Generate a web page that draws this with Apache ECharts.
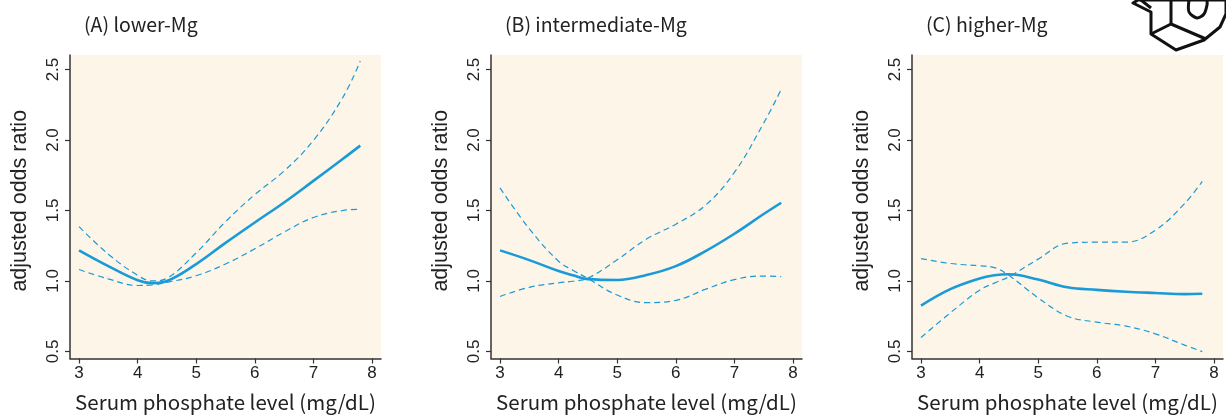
<!DOCTYPE html>
<html><head><meta charset="utf-8">
<script src="https://cdn.jsdelivr.net/npm/echarts@6/dist/echarts.min.js"></script>
<style>html,body{margin:0;padding:0;background:#fff}#c{width:1226px;height:417px}</style>
</head><body><div id="c"></div>
<script>
// shared x positions (serum phosphate, mg/dL)
const xs = [3.0, 3.5, 4.0, 4.25, 4.5, 5.0, 5.5, 6.0, 6.5, 7.0, 7.5, 7.8];
const xTicks = [3, 4, 5, 6, 7, 8];
const yTicks = [0.5, 1.0, 1.5, 2.0, 2.5];
const titles = ['(A) lower-Mg', '(B) intermediate-Mg', '(C) higher-Mg'];
const xName = 'Serum phosphate level (mg/dL)';
const yName = 'adjusted odds ratio';
// (A) lower-Mg
const aOR  = [1.217, 1.105, 1.005, 0.985, 1.0,   1.12,  1.27,  1.415, 1.557, 1.71,  1.865, 1.96];
const aCI1 = [1.385, 1.19,  1.04,  1.0,   1.02,  1.2,   1.42,  1.613, 1.78,  1.997, 2.3,   2.56];
const aCI2 = [1.081, 1.015, 0.968, 0.972, 0.99,  1.037, 1.12,  1.228, 1.347, 1.45,  1.5,   1.508];
// (B) intermediate-Mg
const bOR  = [1.217, 1.148, 1.07,  1.04,  1.013, 1.007, 1.042, 1.105, 1.21,  1.335, 1.475, 1.555];
const bCI1 = [1.66,  1.37,  1.14,  1.075, 1.017, 0.9,   0.846, 0.862, 0.94,  1.01,  1.035, 1.03];
const bCI2 = [0.89,  0.955, 0.987, 0.998, 1.02,  1.15,  1.297, 1.403, 1.535, 1.77,  2.12,  2.359];
// (C) higher-Mg
const cOR  = [0.825, 0.942, 1.018, 1.04,  1.048, 1.01,  0.955, 0.937, 0.924, 0.915, 0.907, 0.909];
const cCI1 = [1.159, 1.124, 1.108, 1.095, 1.04,  0.88,  0.75,  0.708, 0.68,  0.625, 0.545, 0.499];
const cCI2 = [0.599, 0.774, 0.935, 0.985, 1.03,  1.155, 1.268, 1.275, 1.275, 1.36,  1.55,  1.706];

const panels = [[aOR, aCI1, aCI2], [bOR, bCI1, bCI2], [cOR, cCI1, cCI2]];
const lefts = [70, 491, 912];
const BLUE = '#1a9ad6';
const pair = ys => xs.map((x, i) => [x, ys[i]]);

const grid = [], xAxis = [], yAxis = [], series = [], title = [];
panels.forEach((p, k) => {
  grid.push({left: lefts[k], top: 55, width: 311, height: 308, show: true,
    backgroundColor: '#fdf5e8', borderWidth: 0});
  title.push({text: titles[k], left: lefts[k] + 9, top: 10,
    textStyle: {fontFamily: 'Noto Sans CJK JP', fontSize: 19.5, fontWeight: 'normal', color: '#222'}});
  xAxis.push({type: 'value', gridIndex: k, min: 2.846, max: 8.154,
    name: xName, nameLocation: 'middle', nameGap: 33,
    nameTextStyle: {fontFamily: 'Noto Sans CJK JP', fontSize: 20.5, color: '#222'},
    axisLine: {show: true, lineStyle: {color: '#333', width: 1.5}},
    axisTick: {show: true, length: 5, customValues: xTicks, lineStyle: {color: '#333', width: 1.2}},
    axisLabel: {customValues: xTicks, margin: 6, fontFamily: 'Liberation Sans', fontSize: 17, color: '#222'},
    splitLine: {show: false}});
  yAxis.push({type: 'value', gridIndex: k, min: 0.45, max: 2.603,
    name: yName, nameLocation: 'middle', nameGap: 39, nameRotate: 90,
    nameTextStyle: {fontFamily: 'Liberation Sans', fontSize: 21.5, color: '#222', padding: [0, 0, 0, 12]},
    axisLine: {show: true, lineStyle: {color: '#333', width: 1.5}},
    axisTick: {show: true, length: 5, customValues: yTicks, lineStyle: {color: '#333', width: 1.2}},
    axisLabel: {customValues: yTicks, rotate: 90, margin: 8, fontFamily: 'Liberation Sans', fontSize: 17, color: '#222',
      formatter: v => v.toFixed(1)},
    splitLine: {show: false}});
  const names = ['OR', 'CI1', 'CI2'];
  p.forEach((ys, j) => {
    series.push({type: 'line', name: names[j], xAxisIndex: k, yAxisIndex: k, data: pair(ys),
      smooth: 0.4, symbol: 'none', silent: true,
      lineStyle: j === 0 ? {color: BLUE, width: 2.6} : {color: BLUE, width: 1.2, type: [6, 4]}});
  });
});

// partial watermark logo in the top-right corner (approximate outline)
const logoStyle = {stroke: '#111', lineWidth: 3, fill: null, lineJoin: 'round'};
const graphic = [
  {type: 'polygon', shape: {points: [[1133,3],[1151,12],[1151,34],[1176,50],[1204,40],[1220,27],[1226,14],[1226,0],[1138,0]]},
    style: {stroke: '#111', lineWidth: 3, fill: '#fff', lineJoin: 'round'}},
  {type: 'polyline', shape: {points: [[1151,34],[1171,24],[1206,39]]}, style: logoStyle},
  {type: 'polyline', shape: {points: [[1171,0],[1171,24]]}, style: logoStyle},
  {type: 'polyline', shape: {points: [[1189,0],[1189,12],[1197,18],[1204,14],[1207,5],[1207,0]], smooth: 0.3}, style: logoStyle},
  {type: 'polyline', shape: {points: [[1141,0],[1151,8]]}, style: logoStyle}
];

const chart = echarts.init(document.getElementById('c'), null, {renderer: 'canvas'});
chart.setOption({animation: false, title, grid, xAxis, yAxis, series, graphic});
</script></body></html>
